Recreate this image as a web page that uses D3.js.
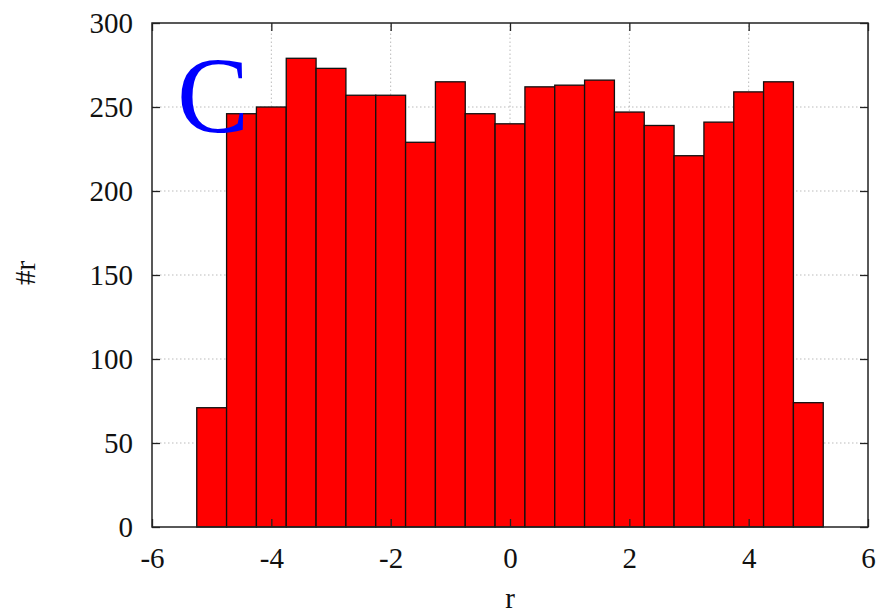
<!DOCTYPE html>
<html>
<head>
<meta charset="utf-8">
<script src="https://cdn.jsdelivr.net/npm/d3@7"></script>
<style>
  body { margin: 0; background: #fff; }
  text { font-family: "Liberation Serif", "Times New Roman", serif; }
</style>
</head>
<body>
<svg id="chart" width="880" height="616"></svg>
<script>
// histogram bins (centres) and counts
const binCenters = [-5, -4.5, -4, -3.5, -3, -2.5, -2, -1.5, -1, -0.5, 0, 0.5, 1, 1.5, 2, 2.5, 3, 3.5, 4, 4.5, 5];
const counts = [71, 246, 250, 279, 273, 257, 257, 229, 265, 246, 240, 262, 263, 266, 247, 239, 221, 241, 259, 265, 74];
const binWidth = 0.5;
const xTicks = [-6, -4, -2, 0, 2, 4, 6];
const yTicks = [0, 50, 100, 150, 200, 250, 300];

const width = 880, height = 616;
const margin = {left: 152, right: 12, top: 23, bottom: 89};
const fontSize = 29;

const svg = d3.select('#chart');

const x = d3.scaleLinear().domain([-6, 6]).range([margin.left, width - margin.right]);
const y = d3.scaleLinear().domain([0, 300]).range([height - margin.bottom, margin.top]);

// grid
const grid = svg.append('g');
grid.selectAll('.gx').data(xTicks.slice(1, -1)).enter().append('line')
    .attr('x1', d => x(d)).attr('x2', d => x(d))
    .attr('y1', y(0)).attr('y2', y(300))
    .attr('stroke', '#bbb').attr('stroke-dasharray', '1.5,2.5');
grid.selectAll('.gy').data(yTicks.slice(1, -1)).enter().append('line')
    .attr('x1', x(-6)).attr('x2', x(6))
    .attr('y1', d => y(d)).attr('y2', d => y(d))
    .attr('stroke', '#bbb').attr('stroke-dasharray', '1.5,2.5');

// bars
svg.selectAll('.bar').data(binCenters).enter().append('rect')
    .attr('x', d => x(d - binWidth / 2))
    .attr('width', d => x(d + binWidth / 2) - x(d - binWidth / 2))
    .attr('y', (d, i) => y(counts[i]))
    .attr('height', (d, i) => y(0) - y(counts[i]))
    .attr('fill', '#ff0000')
    .attr('stroke', '#111')
    .attr('stroke-width', 1.3);

// axes, gnuplot style: ticks inward and mirrored
const tickLen = 8;
const plain = d => String(d);   // hyphen minus like gnuplot
svg.append('g')
    .attr('transform', `translate(0,${y(0)})`)
    .call(d3.axisBottom(x).tickValues(xTicks).tickSize(-tickLen).tickPadding(20).tickFormat(plain))
    .call(g => g.select('.domain').remove());
svg.append('g')
    .attr('transform', `translate(0,${y(300)})`)
    .call(d3.axisTop(x).tickValues(xTicks).tickSize(-tickLen).tickFormat(''))
    .call(g => g.select('.domain').remove());
svg.append('g')
    .attr('transform', `translate(${x(-6)},0)`)
    .call(d3.axisLeft(y).tickValues(yTicks).tickSize(-tickLen).tickPadding(19).tickFormat(plain))
    .call(g => g.select('.domain').remove());
svg.append('g')
    .attr('transform', `translate(${x(6)},0)`)
    .call(d3.axisRight(y).tickValues(yTicks).tickSize(-tickLen).tickFormat(''))
    .call(g => g.select('.domain').remove());

svg.selectAll('.tick line').attr('stroke', '#222').attr('stroke-width', 1.3);
svg.selectAll('.tick text')
    .attr('font-size', fontSize).attr('fill', '#111')
    .style('font-family', '"Liberation Serif", serif');

// frame
svg.append('rect')
    .attr('x', x(-6)).attr('y', y(300))
    .attr('width', x(6) - x(-6)).attr('height', y(0) - y(300))
    .attr('fill', 'none').attr('stroke', '#222').attr('stroke-width', 1.5);

// labels
svg.append('text')
    .attr('x', x(0)).attr('y', 608)
    .attr('text-anchor', 'middle')
    .attr('font-size', fontSize).attr('fill', '#111')
    .text('r');
svg.append('text')
    .attr('transform', `translate(35,${y(150) - 2}) rotate(-90)`)
    .attr('text-anchor', 'middle')
    .attr('font-size', fontSize).attr('fill', '#111')
    .text('#r');

// panel letter
svg.append('text')
    .attr('x', 177).attr('y', 132)
    .attr('font-size', 108).attr('fill', '#0000ff')
    .text('C');
</script>
</body>
</html>
